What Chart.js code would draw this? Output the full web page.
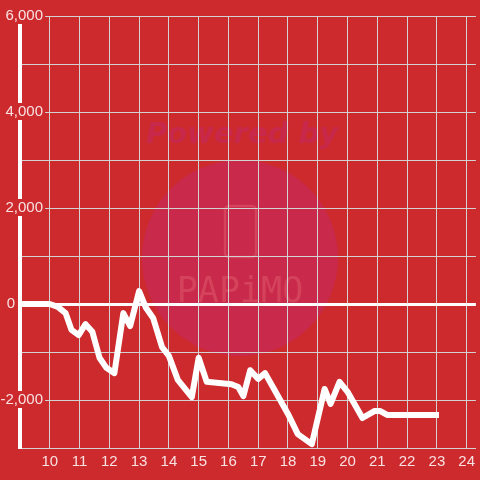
<!DOCTYPE html>
<html>
<head>
<meta charset="utf-8">
<script src="https://cdn.jsdelivr.net/npm/chart.js@4"></script>
<style>
  html, body { margin: 0; padding: 0; background: #cd2a2e; }
  canvas { display: block; }
</style>
</head>
<body>
<canvas id="chart" width="480" height="480"></canvas>
<script>
// hours of the day and running balance
const hours = [9.0, 10.0, 10.27, 10.53, 10.73, 10.97, 11.2, 11.43, 11.67, 11.9,
  12.17, 12.47, 12.7, 13.0, 13.23, 13.47, 13.77, 14.0, 14.3, 14.77,
  15.0, 15.27, 16.1, 16.33, 16.5, 16.73, 17.0, 17.23, 17.53, 18.0,
  18.33, 18.8, 19.23, 19.43, 19.73, 20.0, 20.5, 20.9, 21.1, 21.33, 23.07];
const balance = [0, 0, -60, -190, -540, -650, -420, -580, -1120, -1330,
  -1440, -190, -460, 270, -80, -290, -900, -1080, -1580, -1940,
  -1120, -1620, -1670, -1730, -1920, -1380, -1560, -1440, -1770, -2290,
  -2710, -2920, -1770, -2080, -1620, -1830, -2375, -2230, -2230, -2310, -2310];

const bg = '#cd2a2e';
const gridGrey = '#d2d2d2';
const labelColor = 'rgba(255,255,255,0.86)';

// watermark behind the grid
const watermark = {
  id: 'watermark',
  beforeDraw(chart) {
    const c = chart.ctx;
    c.save();
    c.fillStyle = bg;
    c.fillRect(0, 0, chart.width, chart.height);
    c.fillStyle = '#c9294a';
    c.beginPath();
    c.arc(240, 258, 98, 0, Math.PI * 2);
    c.fill();
    c.fillStyle = '#c8284a';
    c.font = 'italic bold 29px "DejaVu Sans"';
    c.textAlign = 'center';
    c.textBaseline = 'alphabetic';
    c.fillText('Powered by', 242, 143);
    c.strokeStyle = 'rgba(232,110,120,0.4)';
    c.lineWidth = 2.5;
    c.beginPath();
    c.roundRect(225, 206, 31, 51, 4);
    c.stroke();
    c.fillStyle = 'rgba(232,110,120,0.38)';
    c.font = '35px "DejaVu Sans Mono"';
    c.fillText('PAPiMO', 240, 302);
    c.restore();
  }
};

const data = hours.map((h, i) => ({ x: h, y: balance[i] }));
const labelled = v => v % 2000 === 0;

new Chart(document.getElementById('chart').getContext('2d'), {
  type: 'line',
  data: {
    datasets: [{
      data: data,
      borderColor: '#ffffff',
      borderWidth: 6,
      borderJoinStyle: 'round',
      pointRadius: 0,
      tension: 0,
      fill: false
    }]
  },
  options: {
    responsive: false,
    animation: false,
    layout: { padding: { top: 16, left: 0, right: 0, bottom: 0 } },
    plugins: { legend: { display: false }, tooltip: { enabled: false } },
    scales: {
      x: {
        type: 'linear',
        min: 9,
        max: 24.31,
        afterFit: s => { s.height = 32; },
        ticks: {
          stepSize: 1,
          includeBounds: false,
          padding: 5,
          color: labelColor,
          font: { family: 'Liberation Sans', size: 15 },
          callback: v => (v === 9 ? '' : v)
        },
        grid: { color: gridGrey, borderDash: [2, 2], drawTicks: false },
        border: { color: gridGrey, width: 1 }
      },
      y: {
        min: -3000,
        max: 6000,
        afterFit: s => { s.width = 20; },
        ticks: {
          stepSize: 1000,
          mirror: true,
          crossAlign: 'far',
          padding: -19.5,
          color: labelColor,
          font: { family: 'Liberation Sans', size: 15 },
          showLabelBackdrop: true,
          backdropColor: c => (c.tick && c.tick.value !== 0 && labelled(c.tick.value) ? bg : 'rgba(0,0,0,0)'),
          backdropPadding: { top: 0, bottom: -1, left: 2, right: 2 },
          // the zero label sits left of the axis line in the original
          callback: v => (v === 0 ? '0      \u2009' : labelled(v) ? v.toLocaleString('en-US') : '')
        },
        grid: {
          drawTicks: false,
          color: c => (c.tick && c.tick.value === 0 ? '#ffffff' : gridGrey),
          lineWidth: c => (c.tick && c.tick.value === 0 ? 3 : 1)
        },
        border: { color: '#ffffff', width: 4 }
      }
    }
  },
  plugins: [watermark]
});
</script>
</body>
</html>
